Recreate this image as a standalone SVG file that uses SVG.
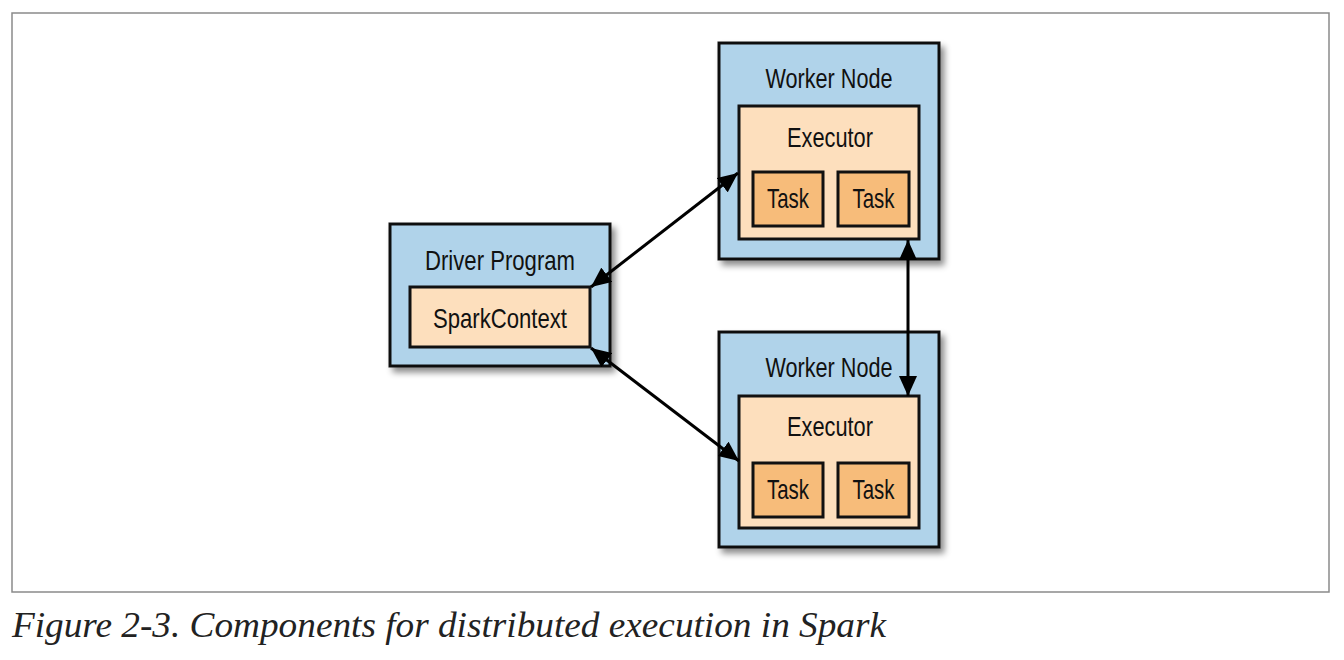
<svg xmlns="http://www.w3.org/2000/svg" width="1344" height="660" viewBox="0 0 1344 660">
<style>
.box{stroke:#111;stroke-width:3}
.node{fill:#b0d3ea}
.exec{fill:#fddfbd}
.task{fill:#f7bc7a}
.lbl{font-family:"Liberation Sans",Arial,sans-serif;font-size:28px;fill:#111;text-anchor:middle}
.conn{stroke:#000;stroke-width:3;fill:none}
.cap{font-family:"Liberation Serif","Times New Roman",serif;font-style:italic;font-size:36px;fill:#222}
</style>
<defs>
<filter id="sh" x="-10%" y="-10%" width="130%" height="130%">
<feDropShadow dx="4" dy="5" stdDeviation="3" flood-color="#000" flood-opacity="0.45"/>
</filter>
<marker id="ah" markerUnits="userSpaceOnUse" markerWidth="22" markerHeight="18" viewBox="0 0 22 18" refX="20" refY="9" orient="auto-start-reverse">
<path d="M0,0 L20,9 L0,18 Z" fill="#000"/>
</marker>
</defs>
<rect x="12" y="13" width="1317" height="579" fill="#fff" stroke="#8a8a8a" stroke-width="1.5"/>

<g id="driver">
<rect class="box node" x="390" y="224" width="220" height="142" filter="url(#sh)"/>
<text class="lbl" x="500" y="270" textLength="150" lengthAdjust="spacingAndGlyphs">Driver Program</text>
<g id="sparkcontext">
<rect class="box exec" x="410" y="287" width="180" height="60"/>
<text class="lbl" x="500" y="328" textLength="134" lengthAdjust="spacingAndGlyphs">SparkContext</text>
</g>
</g>

<g id="worker1">
<rect class="box node" x="719" y="43" width="220" height="216" filter="url(#sh)"/>
<text class="lbl" x="829" y="88" textLength="127" lengthAdjust="spacingAndGlyphs">Worker Node</text>
<g id="executor1">
<rect class="box exec" x="739" y="106" width="180" height="133"/>
<text class="lbl" x="830" y="147" textLength="86" lengthAdjust="spacingAndGlyphs">Executor</text>
<g id="task1a">
<rect class="box task" x="753" y="172" width="70" height="54"/>
<text class="lbl" x="788" y="208" textLength="42" lengthAdjust="spacingAndGlyphs">Task</text>
</g>
<g id="task1b">
<rect class="box task" x="838" y="172" width="71" height="54"/>
<text class="lbl" x="873.5" y="208" textLength="42" lengthAdjust="spacingAndGlyphs">Task</text>
</g>
</g>
</g>

<g id="worker2">
<rect class="box node" x="719" y="332" width="220" height="215" filter="url(#sh)"/>
<text class="lbl" x="829" y="377" textLength="127" lengthAdjust="spacingAndGlyphs">Worker Node</text>
<g id="executor2">
<rect class="box exec" x="739" y="396" width="180" height="132"/>
<text class="lbl" x="830" y="436" textLength="86" lengthAdjust="spacingAndGlyphs">Executor</text>
<g id="task2a">
<rect class="box task" x="753" y="463" width="70" height="54"/>
<text class="lbl" x="788" y="499" textLength="42" lengthAdjust="spacingAndGlyphs">Task</text>
</g>
<g id="task2b">
<rect class="box task" x="838" y="463" width="71" height="54"/>
<text class="lbl" x="873.5" y="499" textLength="42" lengthAdjust="spacingAndGlyphs">Task</text>
</g>
</g>
</g>

<g id="connectors">
<line class="conn" x1="591" y1="287" x2="738" y2="173" marker-start="url(#ah)" marker-end="url(#ah)"/>
<line class="conn" x1="591" y1="348" x2="739" y2="461" marker-start="url(#ah)" marker-end="url(#ah)"/>
<line class="conn" x1="908" y1="240" x2="908" y2="396" marker-start="url(#ah)" marker-end="url(#ah)"/>
</g>

<text class="cap" x="12" y="637" textLength="874" lengthAdjust="spacingAndGlyphs">Figure 2-3. Components for distributed execution in Spark</text>
</svg>
